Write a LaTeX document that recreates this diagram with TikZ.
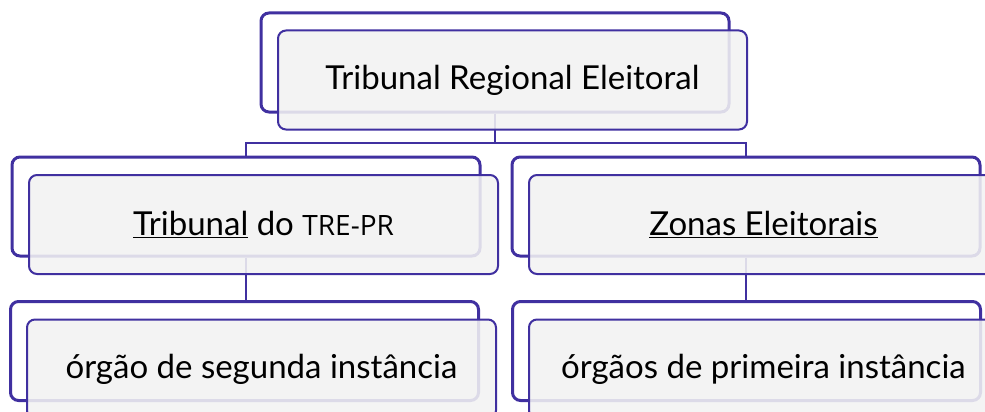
\documentclass[tikz,border=0pt]{standalone}
\usepackage{fontspec}
\setmainfont{Lato}
\newfontfamily\trefont{Open Sans}
\usetikzlibrary{positioning}
\definecolor{orgline}{RGB}{64,48,160}
\definecolor{orgfill}{RGB}{242,242,242}
\tikzset{
  backbox/.style={draw=orgline, line width=3pt, fill=white, rounded corners=8pt,
    minimum width=468pt, minimum height=99pt, inner sep=0pt},
  frontbox/.style={draw=orgline, line width=2pt, fill=orgfill, fill opacity=0.88,
    text opacity=1, rounded corners=8pt, minimum width=469pt, minimum height=99pt,
    inner sep=0pt, font=\fontsize{33}{40}\selectfont},
  link/.style={draw=orgline, line width=2.2pt}
}
\begin{document}
\begin{tikzpicture}[x=1pt, y=-1pt]
			%%%%% START %%%%%
			\useasboundingbox (0, 0) rectangle (985, 412);
			
			% back boxes
			\node[backbox] (treB) at (495, 62.5) {};
			\node[backbox] (tribB) at (246, 206.5) {};
			\node[backbox] (zonasB) at (746, 206.5) {};
			\node[backbox] (segB) at (244.5, 351) {};
			\node[backbox] (primB) at (746.5, 351) {};
			
			% connectors
			\coordinate (bus) at (495, 143);
			\draw[link] (treB.south) -- (bus);
			\draw[link] (bus) -| (tribB.north);
			\draw[link] (bus) -| (zonasB.north);
			\draw[link] (tribB.south) -- (tribB.south |- segB.north);
			\draw[link] (zonasB.south) -- (zonasB.south |- primB.north);
			
			% front boxes
			\node[frontbox] (tre) at (512.5, 80) {Tribunal Regional Eleitoral};
			\node[frontbox] (trib) at (263.5, 224.5) {\underline{Tribunal} do {\trefont\fontsize{28}{34}\selectfont TRE-PR}};
			\node[frontbox] (zonas) at (763.5, 224.5) {\underline{Zonas Eleitorais}};
			\node[frontbox] (seg) at (261.5, 369) {órgão de segunda instância};
			\node[frontbox] (prim) at (763.5, 369) {órgãos de primeira instância};
			
			%%%%% END %%%%%
		\end{tikzpicture}
\end{document}
